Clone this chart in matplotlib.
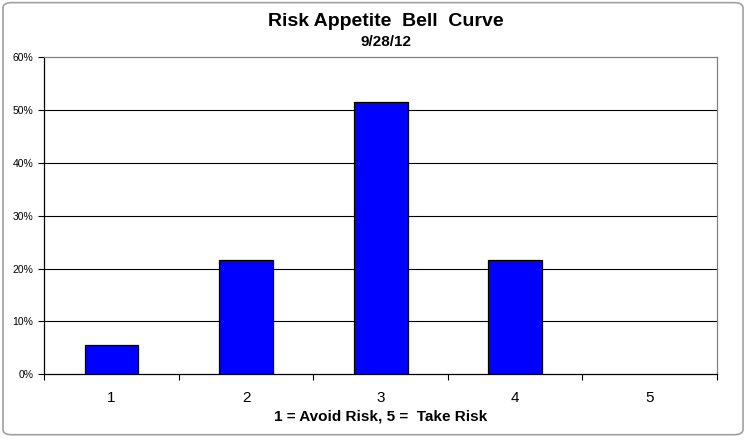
import matplotlib
matplotlib.use("Agg")
import matplotlib.pyplot as plt
from matplotlib.patches import FancyBboxPatch
from matplotlib.ticker import FuncFormatter, FixedLocator

categories = ["1", "2", "3", "4", "5"]
values = [0.055, 0.217, 0.514, 0.217, 0.0]
yticks = [0.0, 0.1, 0.2, 0.3, 0.4, 0.5, 0.6]
title = "Risk Appetite  Bell  Curve"
subtitle = "9/28/12"
xlabel = "1 = Avoid Risk, 5 =  Take Risk"

plt.rcParams['font.family'] = ['Liberation Sans', 'DejaVu Sans']

fig = plt.figure(figsize=(7.46, 4.40), dpi=100)
fig.patch.set_facecolor("white")

# chart area border
border = FancyBboxPatch((0.004, 0.012), 0.992, 0.982,
                        boxstyle="round,pad=0,rounding_size=0.012",
                        transform=fig.transFigure, facecolor="none",
                        edgecolor="#a0a0a0", linewidth=1.2, zorder=0)
fig.patches.append(border)

ax = fig.add_axes([44.3 / 746, 1 - 374.3 / 440, (717 - 44.3) / 746, (374.3 - 57) / 440])
ax.set_zorder(2)
x = list(range(1, len(categories) + 1))
edge_widths = [0.9 if v > 0 else 0 for v in values]
ax.bar(x, values, width=0.4, color="#0000FF", edgecolor="black", linewidth=edge_widths, zorder=3)

ax.set_xlim(0.5, len(categories) + 0.5)
ax.set_ylim(0, 0.6)
ax.set_yticks(yticks)
ax.yaxis.set_major_formatter(FuncFormatter(lambda v, p: f"{v*100:.0f}%"))
ax.set_xticks(x)
ax.set_xticklabels(categories)
ax.xaxis.set_minor_locator(FixedLocator([i + 0.5 for i in range(0, len(categories) + 1)]))
ax.tick_params(axis="x", which="major", length=0, pad=12, labelsize=11)
ax.tick_params(axis="x", which="minor", length=4, width=0.8, direction="out", color="black")
ax.tick_params(axis="y", which="major", length=4, width=0.8, direction="out", pad=4, labelsize=7.5)

for yv in yticks[1:-1]:
    ax.axhline(yv, color="black", linewidth=0.8, zorder=1)

ax.spines["left"].set_color("black")
ax.spines["bottom"].set_color("black")
ax.spines["left"].set_linewidth(0.9)
ax.spines["bottom"].set_linewidth(0.9)
ax.spines["top"].set_color("#808080")
ax.spines["right"].set_color("#808080")
ax.spines["top"].set_linewidth(0.9)
ax.spines["right"].set_linewidth(0.9)
ax.spines["bottom"].set_zorder(4)

ax.set_xlabel(xlabel, fontsize=11, fontweight="bold", labelpad=3)

fig.text(386 / 746, 1 - 21 / 440, title, ha="center", va="center", fontsize=14, fontweight="bold")
fig.text(386 / 746, 1 - 42 / 440, subtitle, ha="center", va="center", fontsize=11, fontweight="bold")

fig.savefig("out.png", dpi=100)
